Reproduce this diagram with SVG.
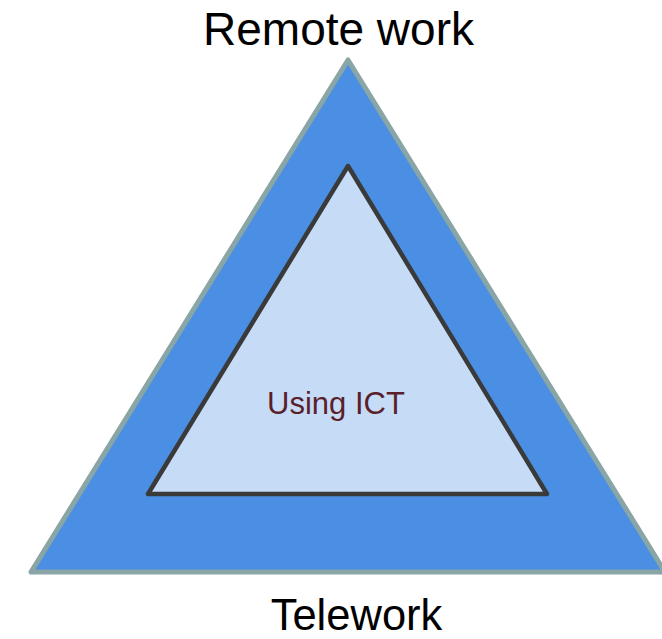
<svg xmlns="http://www.w3.org/2000/svg" width="662" height="639" viewBox="0 0 662 639">
  <style>
    .lbl { font-family: "Liberation Sans", Arial, sans-serif; text-anchor: middle; }
    .outer { fill: #4a8fe3; stroke: #8aa5a6; stroke-width: 5; stroke-linejoin: round; }
    .inner { fill: #c6dbf6; stroke: #3a3a3a; stroke-width: 4.5; stroke-linejoin: round; }
  </style>
  <rect width="662" height="639" fill="#ffffff"/>
  <g id="outer-triangle">
    <polygon class="outer" points="348,60 31,572 665,572"/>
  </g>
  <g id="inner-triangle">
    <polygon class="inner" points="348,166 148,494 547,494"/>
    <text class="lbl" x="336" y="414" font-size="31" fill="#5a1f2a">Using ICT</text>
  </g>
  <g id="label-remote">
    <text class="lbl" x="338.5" y="45" font-size="46" fill="#000000">Remote work</text>
  </g>
  <g id="label-telework">
    <text class="lbl" x="356.5" y="630" font-size="43.5" fill="#000000">Telework</text>
  </g>
  <g id="connectors"></g>
</svg>
